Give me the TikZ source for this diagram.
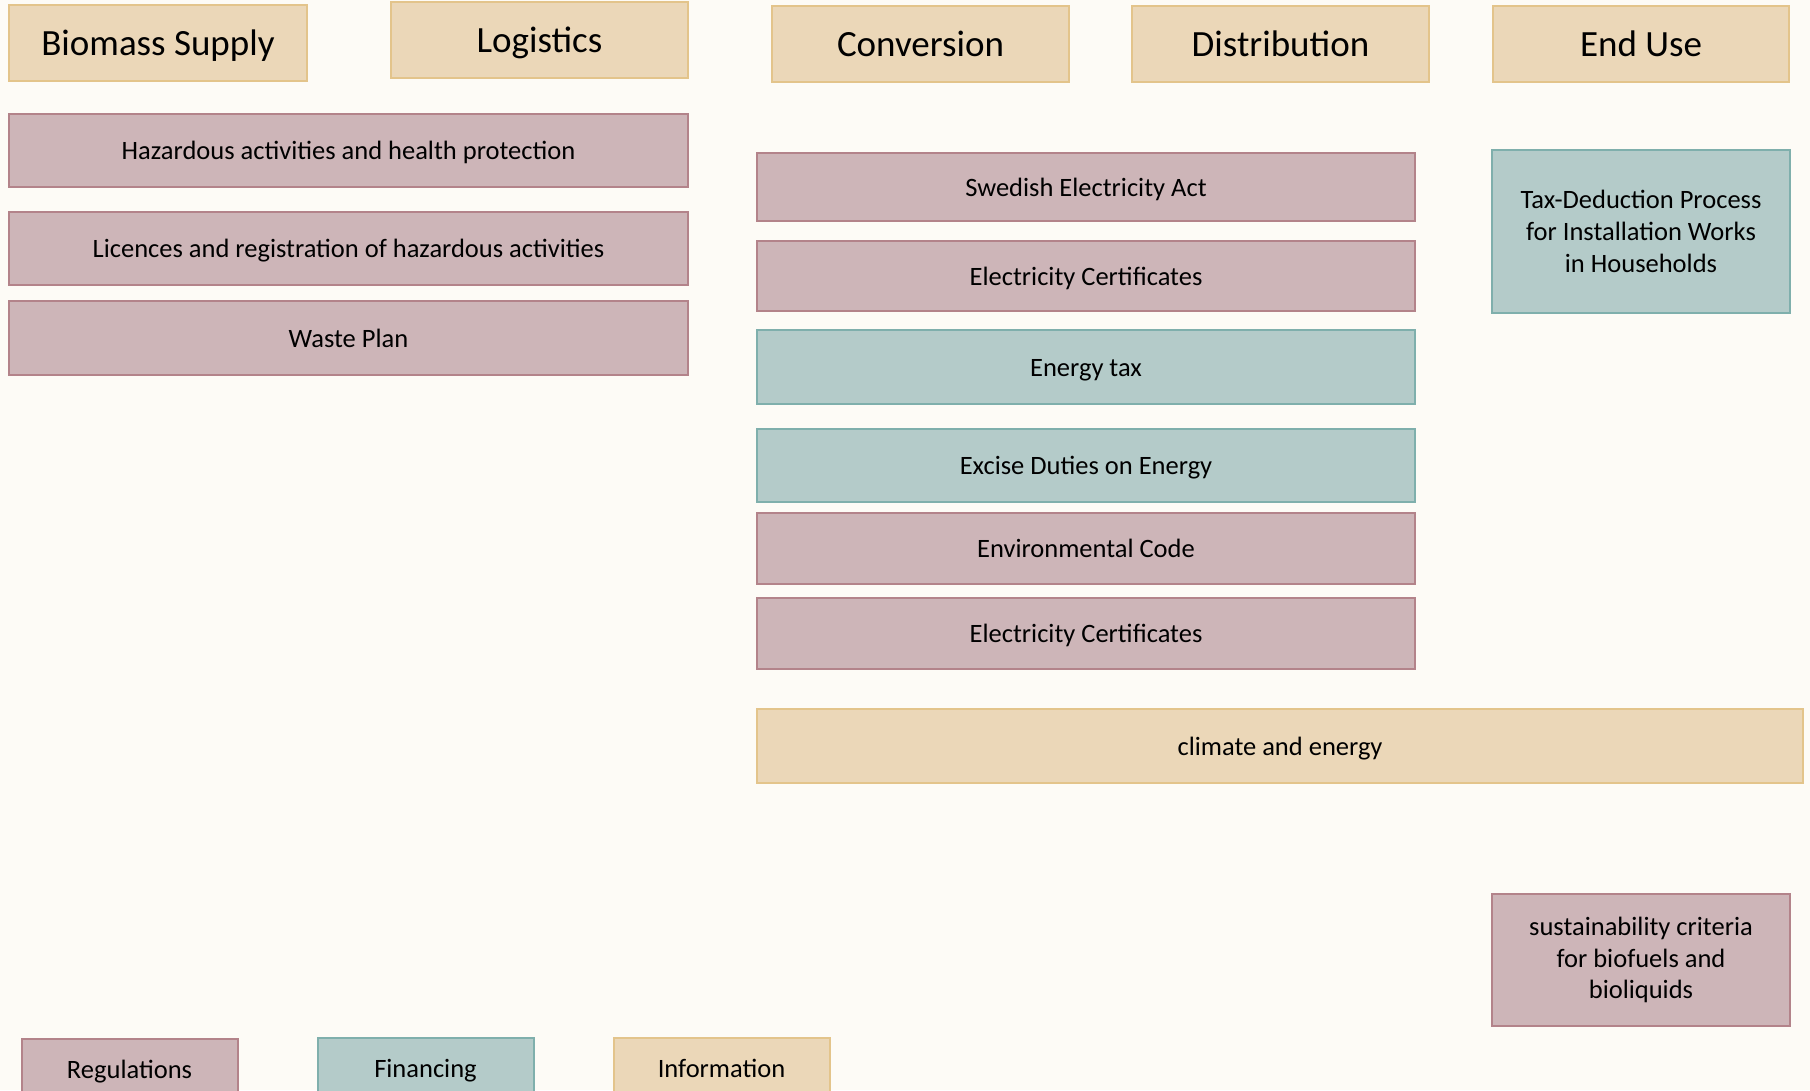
\documentclass[tikz,border=0pt]{standalone}
\usepackage{fontspec}
\setmainfont{Carlito}
\definecolor{bgc}{HTML}{FDFBF6}
\definecolor{pinkfill}{HTML}{CDB5B8}
\definecolor{pinkline}{HTML}{B3838A}
\definecolor{tealfill}{HTML}{B4CBC9}
\definecolor{tealline}{HTML}{7FAFAC}
\definecolor{beigefill}{HTML}{EBD7B8}
\definecolor{beigeline}{HTML}{E3C48B}
\tikzset{
  box/.style={rectangle, line width=2pt, inner sep=0pt, text=black,
    font=\fontsize{26.5}{31.7}\selectfont},
  oneline/.style={text height=25.2pt, text depth=7.1pt},
  pinkbox/.style={box, fill=pinkfill, draw=pinkline},
  tealbox/.style={box, fill=tealfill, draw=tealline},
  beigebox/.style={box, fill=beigefill, draw=beigeline},
  headbox/.style={beigebox, font=\fontsize{37}{45}\selectfont,
    text height=35.2pt, text depth=10pt,
    minimum width=297pt, minimum height=76pt},
  midbox/.style={minimum width=658pt},
  leftbox/.style={minimum width=679pt},
  endbox/.style={minimum width=298pt, align=center},
  legbox/.style={minimum width=216pt, minimum height=61pt}
}
\begin{document}
\begin{tikzpicture}[x=1pt, y=-1pt]
\useasboundingbox (0,0) rectangle (1810,1090);
\fill[bgc] (0,0) rectangle (1810,1090);
\clip (0,0) rectangle (1810,1090);

% column headers
\node[headbox, minimum width=298pt] (bs) at (158,43) {Biomass Supply};
\node[headbox] (lg) at (539.5,40) {Logistics};
\node[headbox] (cv) at (920.5,43.5) {Conversion};
\node[headbox] (ds) at (1280.5,43.5) {Distribution};
\node[headbox, minimum width=296pt] (eu) at (1641,43.5) {End Use};

% left column
\node[pinkbox, oneline, leftbox, minimum height=73pt] (hz) at (348.5,150.5) {Hazardous activities and health protection};
\node[pinkbox, oneline, leftbox, minimum height=73pt] (lc) at (348.5,248.5) {Licences and registration of hazardous activities};
\node[pinkbox, oneline, leftbox, minimum height=74pt] (wp) at (348.5,338) {Waste Plan};

% middle column
\node[pinkbox, oneline, midbox, minimum height=68pt] (sea) at (1086,187) {Swedish Electricity Act};
\node[pinkbox, oneline, midbox, minimum height=70pt] (ec1) at (1086,276) {Electricity Certificates};
\node[tealbox, oneline, midbox, minimum height=74pt] (et) at (1086,367) {Energy tax};
\node[tealbox, oneline, midbox, minimum height=73pt] (ed) at (1086,465.5) {Excise Duties on Energy};
\node[pinkbox, oneline, midbox, minimum height=71pt] (env) at (1086,548.5) {Environmental Code};
\node[pinkbox, oneline, midbox, minimum height=71pt] (ec2) at (1086,633.5) {Electricity Certificates};
\node[beigebox, oneline, minimum width=1046pt, minimum height=74pt] (ce) at (1280,746) {climate and energy};

% end use column
\node[tealbox, endbox, minimum height=163pt] (td) at (1641,231.5) {Tax-Deduction Process\\for Installation Works\\in Households};
\node[pinkbox, endbox, minimum height=132pt] (sc) at (1641,960) {sustainability criteria\\for biofuels and\\bioliquids};

% legend
\node[pinkbox, oneline, legbox] (reg) at (129.5,1069.5) {Regulations};
\node[tealbox, oneline, legbox] (fin) at (425.5,1068.5) {Financing};
\node[beigebox, oneline, legbox] (inf) at (721.5,1068.5) {Information};
\end{tikzpicture}
\end{document}
